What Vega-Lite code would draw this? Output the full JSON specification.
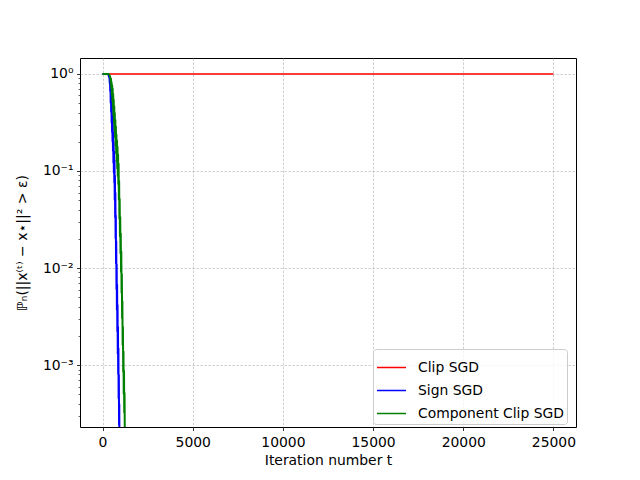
{
  "$schema": "https://vega.github.io/schema/vega-lite/v6.json",
  "autosize": {"type": "none"},
  "padding": {"left": 80, "top": 58, "right": 64, "bottom": 53},
  "width": 496,
  "height": 369,
  "background": "white",
  "config": {
    "font": "DejaVu Sans",
    "view": {"stroke": "black", "strokeWidth": 1},
    "axis": {
      "domain": false,
      "tickColor": "black",
      "tickWidth": 0.8,
      "tickSize": 3.5,
      "labelFontSize": 13.9,
      "labelColor": "black",
      "labelPadding": 4.5,
      "titleFontSize": 13.9,
      "titleFontWeight": "normal",
      "titleColor": "black",
      "grid": true,
      "gridColor": "#b0b0b0",
      "gridDash": [2.5, 1.5],
      "gridWidth": 0.6
    },
    "legend": {
      "labelFontSize": 13.9,
      "labelColor": "black"
    }
  },
  "data": {
    "values": [
      {"series": "Clip SGD", "t": 0, "p": 1},
      {"series": "Clip SGD", "t": 25000, "p": 1},

      {"series": "Sign SGD", "t": 0, "p": 1},
      {"series": "Sign SGD", "t": 150, "p": 1},
      {"series": "Sign SGD", "t": 275, "p": 1},
      {"series": "Sign SGD", "t": 330, "p": 0.97},
      {"series": "Sign SGD", "t": 385, "p": 0.91},
      {"series": "Sign SGD", "t": 400, "p": 0.8},
      {"series": "Sign SGD", "t": 412, "p": 0.86},
      {"series": "Sign SGD", "t": 425, "p": 0.66},
      {"series": "Sign SGD", "t": 440, "p": 0.75},
      {"series": "Sign SGD", "t": 452, "p": 0.5},
      {"series": "Sign SGD", "t": 465, "p": 0.66},
      {"series": "Sign SGD", "t": 478, "p": 0.4},
      {"series": "Sign SGD", "t": 490, "p": 0.55},
      {"series": "Sign SGD", "t": 503, "p": 0.31},
      {"series": "Sign SGD", "t": 515, "p": 0.46},
      {"series": "Sign SGD", "t": 528, "p": 0.25},
      {"series": "Sign SGD", "t": 540, "p": 0.38},
      {"series": "Sign SGD", "t": 553, "p": 0.2},
      {"series": "Sign SGD", "t": 565, "p": 0.31},
      {"series": "Sign SGD", "t": 578, "p": 0.16},
      {"series": "Sign SGD", "t": 590, "p": 0.25},
      {"series": "Sign SGD", "t": 603, "p": 0.12},
      {"series": "Sign SGD", "t": 615, "p": 0.2},
      {"series": "Sign SGD", "t": 628, "p": 0.095},
      {"series": "Sign SGD", "t": 640, "p": 0.16},
      {"series": "Sign SGD", "t": 652, "p": 0.075},
      {"series": "Sign SGD", "t": 664, "p": 0.13},
      {"series": "Sign SGD", "t": 676, "p": 0.05},
      {"series": "Sign SGD", "t": 688, "p": 0.09},
      {"series": "Sign SGD", "t": 700, "p": 0.033},
      {"series": "Sign SGD", "t": 712, "p": 0.06},
      {"series": "Sign SGD", "t": 724, "p": 0.02},
      {"series": "Sign SGD", "t": 736, "p": 0.035},
      {"series": "Sign SGD", "t": 748, "p": 0.011},
      {"series": "Sign SGD", "t": 760, "p": 0.019},
      {"series": "Sign SGD", "t": 772, "p": 0.006},
      {"series": "Sign SGD", "t": 784, "p": 0.011},
      {"series": "Sign SGD", "t": 796, "p": 0.0037},
      {"series": "Sign SGD", "t": 808, "p": 0.0068},
      {"series": "Sign SGD", "t": 820, "p": 0.0022},
      {"series": "Sign SGD", "t": 832, "p": 0.0042},
      {"series": "Sign SGD", "t": 844, "p": 0.0013},
      {"series": "Sign SGD", "t": 856, "p": 0.0025},
      {"series": "Sign SGD", "t": 868, "p": 0.0008},
      {"series": "Sign SGD", "t": 880, "p": 0.0015},
      {"series": "Sign SGD", "t": 892, "p": 0.00045},
      {"series": "Sign SGD", "t": 904, "p": 0.0008},
      {"series": "Sign SGD", "t": 916, "p": 0.00024},
      {"series": "Sign SGD", "t": 928, "p": 0.0004},
      {"series": "Sign SGD", "t": 940, "p": 0.0001},

      {"series": "Component Clip SGD", "t": 0, "p": 1},
      {"series": "Component Clip SGD", "t": 150, "p": 1},
      {"series": "Component Clip SGD", "t": 330, "p": 1},
      {"series": "Component Clip SGD", "t": 390, "p": 0.97},
      {"series": "Component Clip SGD", "t": 440, "p": 0.91},
      {"series": "Component Clip SGD", "t": 455, "p": 0.8},
      {"series": "Component Clip SGD", "t": 470, "p": 0.9},
      {"series": "Component Clip SGD", "t": 485, "p": 0.7},
      {"series": "Component Clip SGD", "t": 500, "p": 0.83},
      {"series": "Component Clip SGD", "t": 515, "p": 0.6},
      {"series": "Component Clip SGD", "t": 530, "p": 0.78},
      {"series": "Component Clip SGD", "t": 545, "p": 0.52},
      {"series": "Component Clip SGD", "t": 560, "p": 0.72},
      {"series": "Component Clip SGD", "t": 575, "p": 0.45},
      {"series": "Component Clip SGD", "t": 590, "p": 0.63},
      {"series": "Component Clip SGD", "t": 605, "p": 0.37},
      {"series": "Component Clip SGD", "t": 620, "p": 0.55},
      {"series": "Component Clip SGD", "t": 635, "p": 0.31},
      {"series": "Component Clip SGD", "t": 650, "p": 0.47},
      {"series": "Component Clip SGD", "t": 665, "p": 0.26},
      {"series": "Component Clip SGD", "t": 680, "p": 0.4},
      {"series": "Component Clip SGD", "t": 695, "p": 0.22},
      {"series": "Component Clip SGD", "t": 710, "p": 0.34},
      {"series": "Component Clip SGD", "t": 725, "p": 0.18},
      {"series": "Component Clip SGD", "t": 740, "p": 0.29},
      {"series": "Component Clip SGD", "t": 755, "p": 0.15},
      {"series": "Component Clip SGD", "t": 770, "p": 0.24},
      {"series": "Component Clip SGD", "t": 785, "p": 0.125},
      {"series": "Component Clip SGD", "t": 800, "p": 0.21},
      {"series": "Component Clip SGD", "t": 815, "p": 0.105},
      {"series": "Component Clip SGD", "t": 830, "p": 0.18},
      {"series": "Component Clip SGD", "t": 845, "p": 0.088},
      {"series": "Component Clip SGD", "t": 860, "p": 0.15},
      {"series": "Component Clip SGD", "t": 875, "p": 0.072},
      {"series": "Component Clip SGD", "t": 890, "p": 0.12},
      {"series": "Component Clip SGD", "t": 905, "p": 0.05},
      {"series": "Component Clip SGD", "t": 920, "p": 0.08},
      {"series": "Component Clip SGD", "t": 935, "p": 0.032},
      {"series": "Component Clip SGD", "t": 950, "p": 0.052},
      {"series": "Component Clip SGD", "t": 965, "p": 0.021},
      {"series": "Component Clip SGD", "t": 980, "p": 0.034},
      {"series": "Component Clip SGD", "t": 995, "p": 0.014},
      {"series": "Component Clip SGD", "t": 1010, "p": 0.023},
      {"series": "Component Clip SGD", "t": 1025, "p": 0.009},
      {"series": "Component Clip SGD", "t": 1040, "p": 0.015},
      {"series": "Component Clip SGD", "t": 1055, "p": 0.0055},
      {"series": "Component Clip SGD", "t": 1070, "p": 0.0088},
      {"series": "Component Clip SGD", "t": 1085, "p": 0.003},
      {"series": "Component Clip SGD", "t": 1100, "p": 0.0046},
      {"series": "Component Clip SGD", "t": 1115, "p": 0.0016},
      {"series": "Component Clip SGD", "t": 1130, "p": 0.0025},
      {"series": "Component Clip SGD", "t": 1145, "p": 0.00085},
      {"series": "Component Clip SGD", "t": 1160, "p": 0.0014},
      {"series": "Component Clip SGD", "t": 1175, "p": 0.0005},
      {"series": "Component Clip SGD", "t": 1190, "p": 0.00088},
      {"series": "Component Clip SGD", "t": 1205, "p": 0.00032},
      {"series": "Component Clip SGD", "t": 1220, "p": 0.00052},
      {"series": "Component Clip SGD", "t": 1235, "p": 0.00018},
      {"series": "Component Clip SGD", "t": 1250, "p": 0.0001}
    ]
  },
  "encoding": {
    "x": {
      "field": "t",
      "type": "quantitative",
      "scale": {"domain": [-1250, 26250], "nice": false, "zero": false},
      "axis": {
        "title": "Iteration number t",
        "values": [0, 5000, 10000, 15000, 20000, 25000],
        "format": "d",
        "titlePadding": 5
      }
    },
    "y": {
      "field": "p",
      "type": "quantitative",
      "scale": {"type": "log", "domain": [0.00023, 1.46], "nice": false},
      "axis": {
        "title": "ℙₙ(||x⁽ᵗ⁾ − x⋆||² > ε)",
        "titleFontSize": 14,
        "titlePadding": 13,
        "values": [0.0003, 0.0004, 0.0005, 0.0006, 0.0007, 0.0008, 0.0009, 0.001, 0.002, 0.003, 0.004, 0.005, 0.006, 0.007, 0.008, 0.009, 0.01, 0.02, 0.03, 0.04, 0.05, 0.06, 0.07, 0.08, 0.09, 0.1, 0.2, 0.3, 0.4, 0.5, 0.6, 0.7, 0.8, 0.9, 1],
        "labelExpr": "datum.value == 1 ? '10⁰' : datum.value == 0.1 ? '10⁻¹' : datum.value == 0.01 ? '10⁻²' : datum.value == 0.001 ? '10⁻³' : ''",
        "labelPadding": 3.5,
        "tickSize": {"condition": {"test": "indexof([1, 0.1, 0.01, 0.001], datum.value) >= 0", "value": 3.5}, "value": 2},
        "tickWidth": {"condition": {"test": "indexof([1, 0.1, 0.01, 0.001], datum.value) >= 0", "value": 0.8}, "value": 0.6},
        "gridOpacity": {"condition": {"test": "indexof([1, 0.1, 0.01, 0.001], datum.value) >= 0", "value": 1}, "value": 0}
      }
    },
    "color": {
      "field": "series",
      "type": "nominal",
      "scale": {
        "domain": ["Clip SGD", "Sign SGD", "Component Clip SGD"],
        "range": ["#ff0000", "#0000ff", "#008000"]
      },
      "legend": {
        "title": null,
        "orient": "none",
        "legendX": 293,
        "legendY": 291,
        "symbolType": "stroke",
        "symbolSize": 841,
        "symbolStrokeWidth": 1.5,
        "labelOffset": 11,
        "rowPadding": -8,
        "padding": 3,
        "fillColor": "rgba(255,255,255,0.8)",
        "strokeColor": "#cccccc",
        "cornerRadius": 3
      }
    }
  },
  "layer": [
    {
      "transform": [{"filter": "datum.series == 'Clip SGD'"}],
      "mark": {"type": "line", "strokeWidth": 1.5, "clip": true}
    },
    {
      "transform": [{"filter": "datum.series == 'Sign SGD'"}],
      "mark": {"type": "line", "strokeWidth": 2, "clip": true}
    },
    {
      "transform": [{"filter": "datum.series == 'Component Clip SGD'"}],
      "mark": {"type": "line", "strokeWidth": 2, "clip": true}
    }
  ]
}
